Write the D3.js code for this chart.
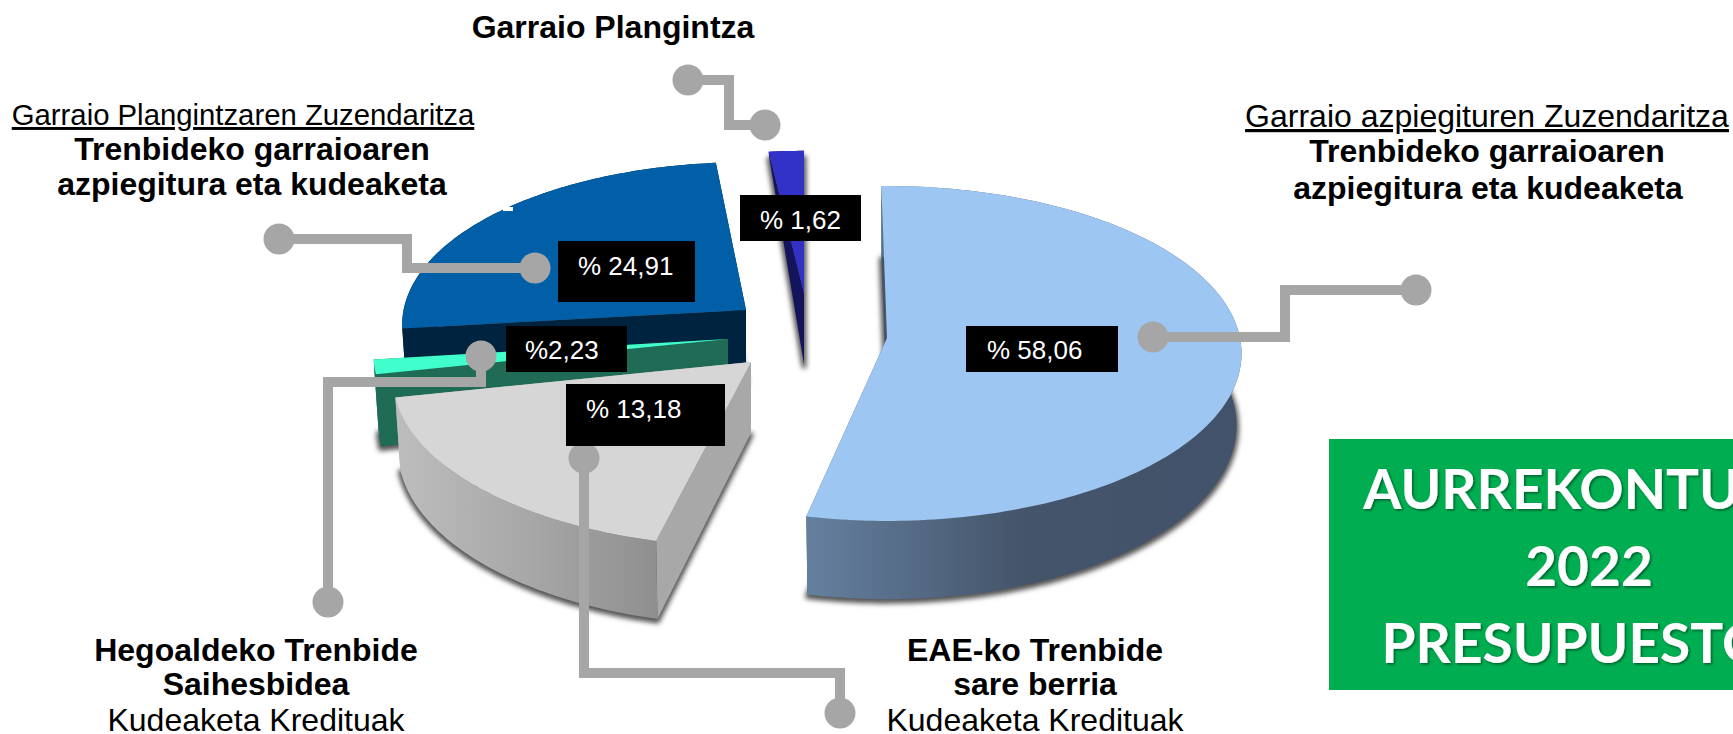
<!DOCTYPE html>
<html>
<head>
<meta charset="utf-8">
<script src="https://cdn.jsdelivr.net/npm/d3@7"></script>
<style>
  html, body { margin: 0; padding: 0; background: #fff; overflow: hidden; }
  svg { display: block; }
  text { font-family: "Liberation Sans", Arial, sans-serif; fill: #000; }
</style>
</head>
<body>
<svg id="viz" width="1733" height="734"></svg>
<script>
// data, clockwise from the top of the pie
const categories = ['Trenbide sare berria', 'Trenbide Kudeaketa', 'Hegoaldeko Saihesbidea', 'Trenbide azpiegitura', 'Garraio Plangintza']
const values = [58.06, 13.18, 2.23, 24.91, 1.62]
const valueLabels = ['% 58,06', '% 13,18', '%2,23', '% 24,91', '% 1,62']

const topColors = ['#9dc6f2', '#d6d6d6', '#40ffcc', '#005fa6', '#3232c8']
const cutColors = ['#44546a', '#a8a8a8', '#1f6b55', '#00243f', '#14145c']
const wallStops = [
  ['#65809f', '#44546a', '#42526a'],
  ['#bdbdbd', '#a8a8a8', '#8f8f8f'],
  ['#1f6b55', '#1f6b55', '#1f6b55'],
  ['#00243f', '#00243f', '#00243f'],
  ['#14145c', '#14145c', '#14145c']
]

// the picture is a tilted powerpoint pie, so value -> drawn angle is not linear
const angleScale = d3.scaleLinear()
  .domain([0, 58.06, 71.24, 73.47, 98.38, 100])
  .range([-1, 192, 258, 263, 354.5, 360])

// exploded slices: where each apex ended up, its radius factor and small trims
const sliceApex = [[887, 338], [751, 362], [728, 339], [746, 310], [804, 293]]
const sliceRadius = [1, 1.01, 1, 0.97, 0.93]
const startTrim = [0, 2, 0, 0.5, -1.2]
const backFade = [0, 0, 0, 0, 1]
const drawOrder = [4, 3, 2, 1, 0]

const rx = 353
const ry = 166
const lean = 0.0925
const depth = 71
const taper = 0.986

// callouts
const boxes = [
  { x: 966, y: 326, w: 152, h: 46, tx: 987, ty: 359 },
  { x: 566, y: 384, w: 159, h: 62, tx: 586, ty: 418 },
  { x: 506, y: 326, w: 121, h: 46, tx: 525, ty: 359 },
  { x: 558, y: 241, w: 137, h: 61, tx: 578, ty: 275 },
  { x: 740, y: 195, w: 121, h: 46, tx: 760, ty: 229 }
]
const leaders = [
  [[1153, 337], [1285, 337], [1285, 290], [1416, 290]],
  [[584, 458], [584, 673], [840, 673], [840, 713]],
  [[481, 356], [481, 382], [328, 382], [328, 602]],
  [[535, 268], [407, 268], [407, 239], [279, 239]],
  [[765, 125], [729, 125], [729, 80], [688, 80]]
]

const captions = [
  { t: 'Garraio Plangintza', x: 613, y: 38, bold: true },
  { t: 'Garraio Plangintzaren Zuzendaritza', x: 243, y: 125, under: true, size: 29.3 },
  { t: 'Trenbideko garraioaren', x: 252, y: 160, bold: true },
  { t: 'azpiegitura eta kudeaketa', x: 252, y: 195, bold: true },
  { t: 'Garraio azpiegituren Zuzendaritza', x: 1487, y: 127, under: true },
  { t: 'Trenbideko garraioaren', x: 1487, y: 162, bold: true },
  { t: 'azpiegitura eta kudeaketa', x: 1488, y: 199, bold: true },
  { t: 'Hegoaldeko Trenbide', x: 256, y: 661, bold: true },
  { t: 'Saihesbidea', x: 256, y: 695, bold: true },
  { t: 'Kudeaketa Kredituak', x: 256, y: 731 },
  { t: 'EAE-ko Trenbide', x: 1035, y: 661, bold: true },
  { t: 'sare berria', x: 1035, y: 695, bold: true },
  { t: 'Kudeaketa Kredituak', x: 1035, y: 731 }
]
const bannerLines = ['AURREKONTUAK', '2022', 'PRESUPUESTOS']

const svg = d3.select('#viz')
const defs = svg.append('defs')

defs.append('filter').attr('id', 'blur')
  .attr('x', '-20%').attr('y', '-20%').attr('width', '140%').attr('height', '140%')
  .append('feGaussianBlur').attr('stdDeviation', 2.5)

defs.append('filter').attr('id', 'textShadow')
  .append('feDropShadow')
    .attr('dx', 1.5).attr('dy', 1.5).attr('stdDeviation', 1)
    .attr('flood-color', '#000').attr('flood-opacity', 0.45)

//
// pie geometry
//

const pie = d3.pie().sort(null).value(d => d)
const arcs = pie(values)
const toPercent = d3.scaleLinear().domain([0, 2 * Math.PI]).range([0, 100])
const line = d3.line()

function rimPoint(i, deg, bottom) {
  const th = deg * Math.PI / 180
  const u = Math.sin(th) * sliceRadius[i]
  const v = -Math.cos(th) * sliceRadius[i]
  const w = 1 - lean * v
  const [ax, ay] = sliceApex[i]
  if (!bottom) return [ax + rx * u / w, ay + ry * v / w]
  const h = v < 0 ? depth * (1 + v * backFade[i]) : depth / w
  return [ax + taper * rx * u / w, ay + ry * v / w + h]
}

function slice(i) {
  const a = arcs[i]
  const from = angleScale(toPercent(a.startAngle)) + startTrim[i]
  const to = angleScale(toPercent(a.endAngle))
  const degs = d3.range(from, to, 1).concat([to])
  const [ax, ay] = sliceApex[i]
  const top = degs.map(d => rimPoint(i, d, false))
  const bottom = degs.map(d => rimPoint(i, d, true))
  return { top, bottom, apexTop: [ax, ay], apexBottom: [ax, ay + depth] }
}

const closed = pts => line(pts) + 'Z'

drawOrder.forEach(i => {
  const s = slice(i)
  const g = svg.append('g').attr('class', 'slice')

  // soft shadow of the foot of the slice
  g.append('path')
    .attr('d', closed([s.apexBottom].concat(s.bottom)))
    .attr('transform', 'translate(0,2)')
    .attr('fill', '#555')
    .attr('stroke', '#555')
    .attr('stroke-width', 5)
    .attr('stroke-linejoin', 'round')
    .attr('filter', 'url(#blur)')

  // the two cut faces
  const first = 0
  const last = s.top.length - 1
  ;[first, last].forEach(k => {
    g.append('path')
      .attr('d', closed([s.apexTop, s.top[k], s.bottom[k], s.apexBottom]))
      .attr('fill', cutColors[i])
  })

  // outer wall, shaded along x
  const xs = d3.extent(s.top, d => d[0])
  const grad = defs.append('linearGradient')
    .attr('id', 'wall' + i)
    .attr('gradientUnits', 'userSpaceOnUse')
    .attr('x1', xs[0]).attr('x2', xs[1]).attr('y1', 0).attr('y2', 0)
  wallStops[i].forEach((c, k) => {
    grad.append('stop').attr('offset', k / 2).attr('stop-color', c)
  })
  g.append('path')
    .attr('d', closed(s.top.concat(s.bottom.slice().reverse())))
    .attr('fill', 'url(#wall' + i + ')')

  // top face
  g.append('path')
    .attr('d', closed([s.apexTop].concat(s.top)))
    .attr('fill', topColors[i])
})

// little white nick left in the dark blue rim of the source image
svg.append('rect')
  .attr('x', 503).attr('y', 207)
  .attr('width', 10).attr('height', 4)
  .attr('fill', '#fff')

//
// leaders, value boxes, captions
//

svg.selectAll('.leader').data(leaders).join('path')
  .attr('class', 'leader')
  .attr('d', d => line(d))
  .attr('fill', 'none')
  .attr('stroke', '#a6a6a6')
  .attr('stroke-width', 10)

svg.selectAll('.dot').data(leaders.flatMap(d => [d[0], d[d.length - 1]])).join('circle')
  .attr('class', 'dot')
  .attr('cx', d => d[0])
  .attr('cy', d => d[1])
  .attr('r', 15.5)
  .attr('fill', '#a6a6a6')

svg.selectAll('.box').data(boxes).join('rect')
  .attr('class', 'box')
  .attr('x', d => d.x)
  .attr('y', d => d.y)
  .attr('width', d => d.w)
  .attr('height', d => d.h)
  .attr('fill', '#000')

svg.selectAll('.val').data(boxes).join('text')
  .attr('class', 'val')
  .attr('x', d => d.tx)
  .attr('y', d => d.ty)
  .attr('font-size', 26)
  .style('fill', '#fff')
  .text((d, i) => valueLabels[i])

svg.selectAll('.caption').data(captions).join('text')
  .attr('class', 'caption')
  .attr('x', d => d.x)
  .attr('y', d => d.y)
  .attr('text-anchor', 'middle')
  .attr('font-size', d => d.size || 32)
  .attr('font-weight', d => d.bold ? 700 : 400)
  .attr('text-decoration', d => d.under ? 'underline' : null)
  .text(d => d.t)

svg.append('rect')
  .attr('x', 1329).attr('y', 439)
  .attr('width', 404).attr('height', 251)
  .attr('fill', '#00ad50')

svg.selectAll('.banner').data(bannerLines).join('text')
  .attr('class', 'banner')
  .attr('x', 1589)
  .attr('y', (d, i) => 509 + i * 77)
  .attr('text-anchor', 'middle')
  .attr('font-size', 55)
  .attr('font-weight', 700)
  .attr('filter', 'url(#textShadow)')
  .style('font-family', 'Lato, sans-serif')
  .style('fill', '#fff')
  .text(d => d)
</script>
</body>
</html>
